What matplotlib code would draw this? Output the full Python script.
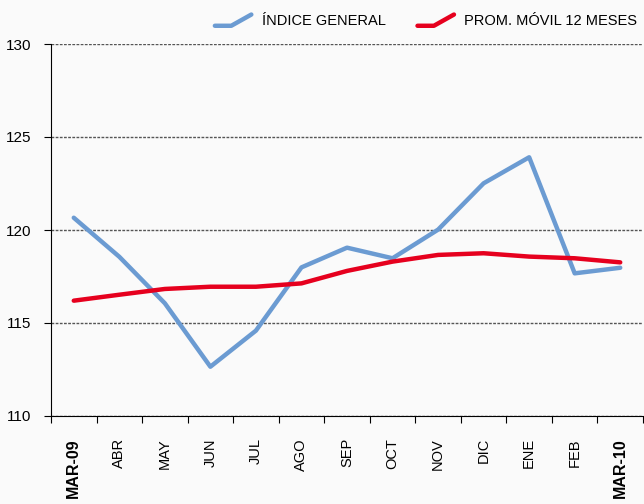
import matplotlib
matplotlib.use("Agg")
import matplotlib.pyplot as plt
from matplotlib.legend_handler import HandlerBase
from matplotlib.lines import Line2D

plt.rcParams['font.family'] = ['Liberation Sans', 'DejaVu Sans']

months = ['MAR-09', 'ABR', 'MAY', 'JUN', 'JUL', 'AGO', 'SEP',
          'OCT', 'NOV', 'DIC', 'ENE', 'FEB', 'MAR-10']
indice = [120.66, 118.56, 116.06, 112.65, 114.59, 117.99, 119.05,
          118.48, 120.02, 122.51, 123.91, 117.67, 117.97]
promedio = [116.2, 116.52, 116.83, 116.95, 116.95, 117.13, 117.8,
            118.3, 118.66, 118.75, 118.57, 118.48, 118.26]

blue = '#6b9bd2'
red = '#e6001e'


class CheckHandler(HandlerBase):
    # legend key drawn as a flat stroke rising at the end
    def create_artists(self, legend, orig_handle, xdescent, ydescent,
                       width, height, fontsize, trans):
        x0 = -xdescent
        y0 = -ydescent
        xs = [x0, x0 + width * 0.45, x0 + width]
        ys = [y0 - height * 0.1, y0 - height * 0.1, y0 + height * 1.0]
        ln = Line2D(xs, ys, color=orig_handle.get_color(), lw=3.2,
                    solid_capstyle='round', solid_joinstyle='round',
                    transform=trans)
        return [ln]


fig = plt.figure(figsize=(6.44, 5.04), dpi=100, facecolor='#fafafa')
ax = fig.add_axes([51 / 644, 1 - 416 / 504, 592 / 644, 372 / 504])
ax.set_facecolor('#fafafa')

x = list(range(len(months)))
l1, = ax.plot(x, indice, color=blue, lw=3.2, solid_capstyle='round',
              label='ÍNDICE GENERAL')
l2, = ax.plot(x, promedio, color=red, lw=3.2, solid_capstyle='round',
              label='PROM. MÓVIL 12 MESES')

ax.set_xlim(-0.5, len(months) - 0.5)
ax.set_ylim(110, 130)
ax.set_yticks([110, 115, 120, 125, 130])
ax.tick_params(axis='y', labelsize=11, length=5, pad=9, direction='out')

ax.set_xticks([i - 0.5 for i in range(len(months) + 1)])
ax.set_xticklabels([])
ax.set_xticks(x, minor=True)
ax.set_xticklabels(months, minor=True, rotation=90, fontsize=10.5,
                   va='top')
ax.tick_params(axis='x', which='major', length=5, direction='out')
ax.tick_params(axis='x', which='minor', length=0, pad=16)
for lbl in ax.get_xticklabels(minor=True):
    if lbl.get_text().startswith('MAR'):
        lbl.set_fontweight('bold')
        lbl.set_fontsize(11.5)

ax.grid(axis='y', color='#555555', linestyle=(0, (2, 1)), lw=1)
ax.set_axisbelow(True)
for side in ['top', 'right']:
    ax.spines[side].set_visible(False)

ax.legend(handles=[l1, l2], loc='lower right', bbox_to_anchor=(1.0, 1.028),
          ncol=2, frameon=False, fontsize=10.5, handlelength=2.5,
          handletextpad=0.7, columnspacing=2.2, borderaxespad=0,
          handler_map={Line2D: CheckHandler()})

fig.savefig('out.png', dpi=100, facecolor=fig.get_facecolor())
